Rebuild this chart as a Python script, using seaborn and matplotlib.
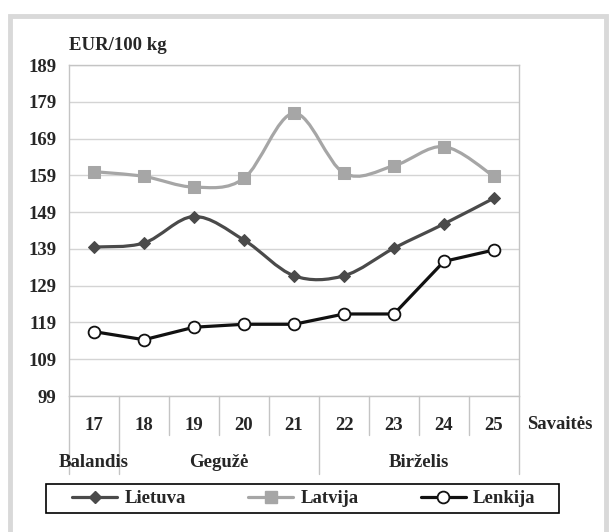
import numpy as np
import pandas as pd
import matplotlib
matplotlib.use("Agg")
import matplotlib.pyplot as plt
import seaborn as sns
from matplotlib.path import Path
from matplotlib.patches import PathPatch, Rectangle
from matplotlib.lines import Line2D
import matplotlib.transforms as mtrans

# Duomenys
weeks = [17, 18, 19, 20, 21, 22, 23, 24, 25]
lietuva = [139.5, 140.6, 147.8, 141.4, 131.7, 131.7, 139.2, 145.8, 152.8]
latvija = [160.0, 158.7, 155.8, 158.2, 175.9, 159.6, 161.6, 166.8, 158.7]
lenkija = [116.5, 114.3, 117.7, 118.5, 118.5, 121.3, 121.3, 135.6, 138.7]
y_ticks = list(range(99, 190, 10))
months = ["Balandis", "Gegužė", "Birželis"]
month_weeks = [[17], [18, 19, 20, 21], [22, 23, 24, 25]]

df = pd.DataFrame({"Savaitė": weeks, "Lietuva": lietuva,
                   "Latvija": latvija, "Lenkija": lenkija})

sns.set_theme(style="white")
plt.rcParams["font.family"] = ["Liberation Serif", "DejaVu Serif"]
plt.rcParams["font.weight"] = "bold"
FS = 13.5

c_lt, c_lv, c_pl = "#4a4a4a", "#a6a6a6", "#111111"
grid_c = "#d4d4d4"

fig = plt.figure(figsize=(6.09, 5.32), dpi=100)
ax = fig.add_axes([69 / 609, 1 - 396 / 532, 450 / 609, 331 / 532])

# isorinis remelis
fig.patches.append(Rectangle((10 / 609, -0.05), 596 / 609, 1.05 - 16 / 532,
                             transform=fig.transFigure, fill=False,
                             edgecolor="#d9d9d9", lw=3.5, zorder=0))


def smooth_path(x, y):
    # Excel stiliaus glotni linija (Bezier)
    pts = np.column_stack([x, y]).astype(float)
    n = len(pts)
    verts = [pts[0]]
    codes = [Path.MOVETO]
    for i in range(n - 1):
        p0 = pts[max(i - 1, 0)]
        p1, p2 = pts[i], pts[i + 1]
        p3 = pts[min(i + 2, n - 1)]
        verts += [p1 + (p2 - p0) / 6, p2 - (p3 - p1) / 6, p2]
        codes += [Path.CURVE4] * 3
    return Path(verts, codes)


for col, color, mk, ms in [("Latvija", c_lv, "s", 8.5), ("Lietuva", c_lt, "D", 6.5)]:
    ax.add_patch(PathPatch(smooth_path(df["Savaitė"], df[col]), facecolor="none",
                           edgecolor=color, lw=2.3, zorder=3))
    sns.lineplot(data=df, x="Savaitė", y=col, ax=ax, linestyle="", marker=mk,
                 markersize=ms, color=color, markeredgecolor=color, zorder=4)

sns.lineplot(data=df, x="Savaitė", y="Lenkija", ax=ax, color=c_pl, lw=2.3,
             marker="o", markersize=8.5, markerfacecolor="white",
             markeredgecolor=c_pl, markeredgewidth=1.3, zorder=5)

ax.set_xlim(weeks[0] - 0.5, weeks[-1] + 0.5)
ax.set_ylim(y_ticks[0], y_ticks[-1])
ax.set_yticks(y_ticks)
ax.set_yticklabels([str(t) for t in y_ticks], fontsize=FS, fontweight="bold")
ax.set_xticks(weeks)
ax.set_xticklabels([str(w) for w in weeks], fontsize=FS, fontweight="bold")
ax.tick_params(axis="x", length=0, pad=15)
ax.tick_params(axis="y", length=0, pad=9)
ax.yaxis.grid(True, color=grid_c, lw=1)
ax.set_axisbelow(True)
for s in ax.spines.values():
    s.set_color("#c4c4c4")
    s.set_linewidth(1)
ax.set_xlabel("")
ax.set_ylabel("")

trans = mtrans.blended_transform_factory(ax.transData, ax.transAxes)
# skirtukai po asimi
month_edges = {month_weeks[0][0] - 0.5} | {m[-1] + 0.5 for m in month_weeks}
for w in weeks + [weeks[-1] + 1]:
    xb = w - 0.5
    depth = -0.235 if xb in month_edges else -0.118
    ax.add_line(Line2D([xb, xb], [0, depth], transform=trans, color="#c4c4c4",
                       lw=1, clip_on=False))
for name, mw in zip(months, month_weeks):
    ax.text(np.mean(mw), -0.2, name, transform=trans, ha="center", va="center",
            fontsize=FS, fontweight="bold")

ax.text(1.018, -0.085, "Savaitės", transform=ax.transAxes, ha="left",
        va="center", fontsize=FS, fontweight="bold")
ax.text(0.0, 1.06, "EUR/100 kg", transform=ax.transAxes, ha="left",
        va="center", fontsize=FS, fontweight="bold")

# legendos remelis
fig.patches.append(Rectangle((46 / 609, 1 - 513 / 532), 513 / 609, 29 / 532,
                             transform=fig.transFigure, fill=False,
                             edgecolor="black", lw=1.2, zorder=1))
handles = [
    Line2D([], [], color=c_lt, lw=2.3, marker="D", markersize=6.5),
    Line2D([], [], color=c_lv, lw=2.3, marker="s", markersize=8.5),
    Line2D([], [], color=c_pl, lw=2.3, marker="o", markersize=8.5,
           markerfacecolor="white", markeredgewidth=1.3),
]
fig.legend(handles, ["Lietuva", "Latvija", "Lenkija"], ncol=3,
           loc="center", bbox_to_anchor=(304 / 609, 1 - 498.5 / 532),
           frameon=False, handlelength=2.4, handletextpad=0.4,
           columnspacing=3.3, prop={"size": FS, "weight": "bold"},
           borderaxespad=0, borderpad=0)

fig.savefig("out.png", dpi=100)
